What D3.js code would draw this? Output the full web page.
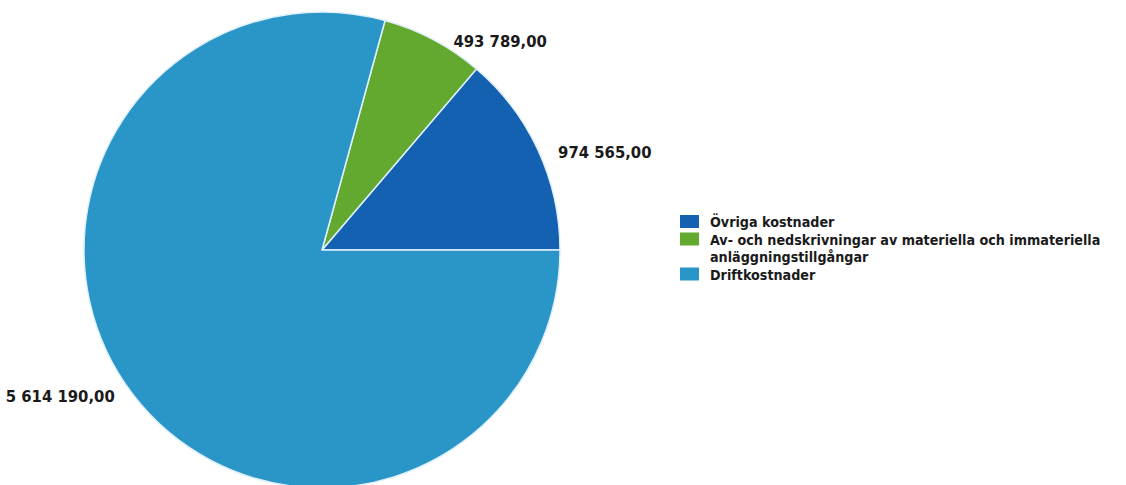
<!DOCTYPE html>
<html>
<head>
<meta charset="utf-8">
<script src="https://cdn.jsdelivr.net/npm/d3@7"></script>
<style>
  html, body { margin: 0; padding: 0; background: #fff; }
  svg { display: block; }
  text { font-family: "DejaVu Sans Condensed", "DejaVu Sans", sans-serif; font-weight: bold; fill: #1a1a1a; }
</style>
</head>
<body>
<svg id="chart" width="1126" height="485"></svg>
<script>
// kategorier och belopp
var categories = ["Övriga kostnader", "Av- och nedskrivningar av materiella och immateriella anläggningstillgångar", "Driftkostnader"];
var legendLines = [["Övriga kostnader"], ["Av- och nedskrivningar av materiella och immateriella", "anläggningstillgångar"], ["Driftkostnader"]];
var values = [974565.00, 493789.00, 5614190.00];
var labels = ["974 565,00", "493 789,00", "5 614 190,00"];
var colors = ["#1461b1", "#63a92f", "#2a96c8"];

var svg = d3.select("#chart");
var cx = 322, cy = 250, r = 238;

var data = categories.map(function (c, i) {
    return { name: c, value: values[i], label: labels[i], color: colors[i] };
});

// start vid kl 3, moturs
var pie = d3.pie().sort(null).value(function (d) { return d.value; })
    .startAngle(Math.PI / 2).endAngle(Math.PI / 2 - 2 * Math.PI);
var arcs = pie(data);
var arc = d3.arc().innerRadius(0).outerRadius(r);

var g = svg.append("g").attr("transform", "translate(" + cx + "," + cy + ")");
g.selectAll("path").data(arcs).enter().append("path")
    .attr("d", arc)
    .attr("fill", function (d) { return d.data.color; })
    .attr("stroke", "#dff0fb")
    .attr("stroke-width", 1.5);

// etiketter
g.selectAll("text.lbl").data(arcs).enter().append("text")
    .attr("class", "lbl")
    .attr("font-size", 16.5)
    .attr("dy", "0.35em")
    .attr("x", function (d) {
        var a = (d.startAngle + d.endAngle) / 2;
        var x = Math.sin(a) * r;
        return x + (x >= 0 ? 20 : -18);
    })
    .attr("y", function (d) {
        var a = (d.startAngle + d.endAngle) / 2;
        return -Math.cos(a) * r + 2;
    })
    .attr("text-anchor", function (d) {
        var a = (d.startAngle + d.endAngle) / 2;
        return Math.sin(a) >= 0 ? "start" : "end";
    })
    .text(function (d) { return d.data.label; });

// förklaring
var lg = svg.append("g").attr("transform", "translate(680,215)");
var lineH = 17.5;
var row = 0;
legendLines.forEach(function (lines, i) {
    var y0 = row * lineH;
    lg.append("rect").attr("x", 0).attr("y", y0).attr("width", 19).attr("height", 13)
        .attr("fill", colors[i]);
    lines.forEach(function (t, j) {
        lg.append("text").attr("x", 30).attr("y", y0 + 12 + j * lineH)
            .attr("font-size", 14.2).text(t);
    });
    row += lines.length;
});
</script>
</body>
</html>
